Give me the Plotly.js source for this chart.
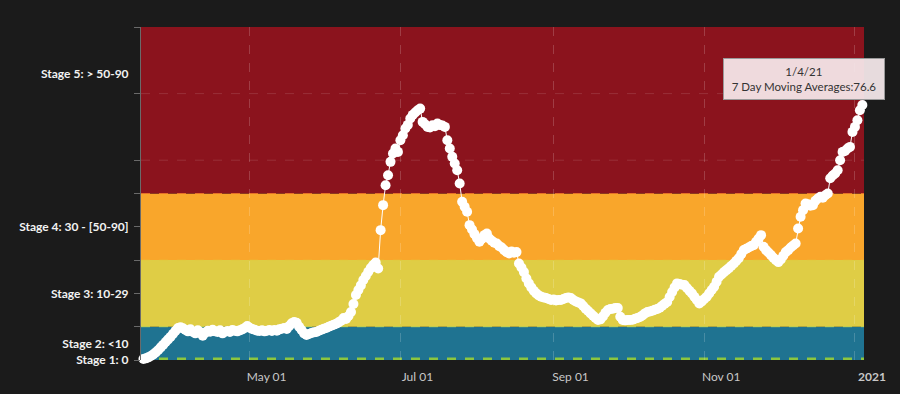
<!DOCTYPE html>
<html>
<head>
<meta charset="utf-8">
<script src="https://cdn.plot.ly/plotly-3.0.1.min.js"></script>
<style>
html,body{margin:0;padding:0;background:#1b1b1b;}
#chart{width:900px;height:394px;}
</style>
</head>
<body>
<div id="chart"></div>
<script>
// ---- data ----
const startDate = '2020-03-19';
const seriesName = '7 Day Moving Averages';
const movingAvg1 = [0.3,0.5,0.8,1.2,1.7,2.3,3.0,3.8,4.6,5.4,
  6.2,7.0,7.9,8.8,9.6,9.8,9.5,9.0,8.6,9.2,
  8.4,8.0,8.9,8.3,7.3,8.2,8.8,8.5,9.1,8.6,
  8.4,8.9,8.0,8.5,8.7,8.4,9.0,8.8,8.6,8.9,
  9.2,9.6,10.2,9.7,9.3,9.1,8.8,8.7,8.9,8.6];
const movingAvg2 = [8.8,9.0,8.7,9.0,8.8,9.2,9.4,9.6,9.3,10.2,
  11.0,11.4,11.2,10.0,9.0,8.0,7.5,7.8,8.1,8.3,
  8.4,8.8,9.1,9.4,9.6,10.0,10.3,10.6,10.9,11.3,
  11.8,12.6,12.3,13.2,14.4,16.8,19.5,21.0,22.4,24.0,
  25.2,26.5,27.6,28.5,29.3,27.5,39.0,46.5,52.5,55.5];
const movingAvg3 = [59.5,62.0,63.5,62.5,66.0,67.5,69.5,70.6,72.5,73.6,
  74.3,75.0,75.5,71.5,70.8,70.0,69.8,70.5,70.2,71.0,
  70.6,70.4,70.0,66.0,63.5,61.0,59.0,57.0,53.0,47.5,
  46.0,44.5,40.5,39.2,37.8,36.6,35.5,36.4,37.5,38.0,
  36.5,35.8,35.2,35.0,34.2,33.8,33.0,32.4,32.0,32.6];
const movingAvg4 = [32.2,32.4,29.0,27.8,26.4,24.5,23.0,21.8,20.8,20.0,
  19.4,19.0,18.8,18.6,18.3,18.0,18.2,17.9,18.0,18.0,
  18.3,18.6,18.8,18.6,18.0,17.6,17.3,17.0,16.2,15.4,
  14.7,14.0,13.3,12.6,12.0,12.2,13.1,14.2,15.0,15.3,
  15.4,15.6,15.6,13.0,12.0,11.9,12.0,12.0,12.1,12.4];
const movingAvg5 = [12.6,12.9,13.4,14.0,14.4,14.6,14.8,15.1,15.3,15.7,
  16.3,16.9,17.4,18.9,20.4,21.8,23.0,22.8,22.6,22.5,
  21.6,20.8,20.0,19.0,18.0,17.0,17.6,18.3,19.0,20.0,
  21.0,22.0,23.5,25.0,25.7,26.4,27.0,27.6,28.3,29.0,
  29.8,30.6,31.8,33.0,33.4,33.8,34.2,34.5,35.5,36.5];
const movingAvg6 = [37.5,34.0,33.0,32.3,31.5,30.7,30.0,29.4,30.2,31.3,
  32.4,33.0,33.8,34.4,35.0,39.5,43.0,45.0,47.0,46.8,
  46.3,46.5,47.8,48.5,49.0,48.7,49.5,50.0,54.6,55.4,
  56.0,57.0,60.0,62.5,62.8,63.5,64.0,68.5,70.0,72.0,
  75.0,76.6];
const values = [].concat(movingAvg1, movingAvg2, movingAvg3, movingAvg4, movingAvg5, movingAvg6);

const stageBands = [
  {from: 0,  to: 10,  color: '#1f7391'},
  {from: 10, to: 30,  color: '#dfcd45'},
  {from: 30, to: 50,  color: '#f9a62b'},
  {from: 50, to: 100, color: '#8b131d'}
];
const stageTickVals = [0, 5, 20, 40, 86];
const stageTickText = ['Stage 1: 0', 'Stage 2: &lt;10', 'Stage 3: 10-29', 'Stage 4: 30 - [50-90]', 'Stage 5: &gt; 50-90'];
const yTickMarks = [0, 10, 20, 30, 40, 50, 60, 80, 100];
const xTickVals = ['2020-05-01', '2020-07-01', '2020-09-01', '2020-11-01', '2021-01-01'];
const xTickText = ['May 01', 'Jul 01', 'Sep 01', 'Nov 01', '<b>2021</b>'];

// ---- dates ----
function pad(n){return (n<10?'0':'')+n;}
const s = startDate.split('-').map(Number);
const t0 = Date.UTC(s[0], s[1]-1, s[2]);
const dates = values.map((v,i)=>{
  const d = new Date(t0 + i*86400000);
  return d.getUTCFullYear()+'-'+pad(d.getUTCMonth()+1)+'-'+pad(d.getUTCDate());
});
const lastIdx = values.length-1;
const ld = new Date(t0 + lastIdx*86400000);
const lastLabel = (ld.getUTCMonth()+1)+'/'+ld.getUTCDate()+'/'+String(ld.getUTCFullYear()).slice(2);

const shapes = stageBands.map(b=>({
  type:'rect', xref:'paper', yref:'y', x0:0, x1:1, y0:b.from, y1:b.to,
  fillcolor:b.color, line:{width:0}, layer:'below'
}));
// boundary & grid lines
[[60,'rgba(255,255,255,0.12)',1],[80,'rgba(255,255,255,0.12)',1],
 [50,'rgba(240,120,40,0.9)',1],[30,'rgba(230,200,60,0.6)',1],
 [10,'rgba(200,220,90,0.9)',1]].forEach(g=>{
  shapes.push({type:'line', xref:'paper', yref:'y', x0:0, x1:1, y0:g[0], y1:g[0],
    line:{color:g[1], width:g[2], dash:'dash'}, layer:'below'});
});
shapes.push({type:'line', xref:'paper', yref:'y', x0:0, x1:1, y0:0.3, y1:0.3,
  line:{color:'#8cc63f', width:3, dash:'dash'}, layer:'below'});

const font = 'Lato, "Open Sans", sans-serif';

const traces = [
  {x: dates, y: values, name: seriesName, type:'scatter', mode:'lines+markers',
   line:{color:'#ffffff', width:1}, marker:{color:'#ffffff', size:10},
   cliponaxis:false, hoverinfo:'skip'},
  {x:[dates[0]], y:[0], yaxis:'y2', type:'scatter', mode:'markers',
   marker:{opacity:0}, hoverinfo:'skip', showlegend:false}
];

const layout = {
  width:900, height:394,
  margin:{l:141, r:36, t:27, b:34},
  paper_bgcolor:'#1b1b1b', plot_bgcolor:'#1b1b1b',
  showlegend:false, hovermode:false,
  font:{family:font, color:'#cccccc', size:12},
  xaxis:{
    type:'date', range:['2020-03-18','2021-01-04 16:00'],
    tickvals:xTickVals, ticktext:xTickText, ticks:'', ticklabelshift:17, ticklabelstandoff:8,
    tickfont:{size:12, color:'#c8c8c8'},
    showgrid:true, gridcolor:'rgba(255,255,255,0.18)', griddash:'dash', gridwidth:1,
    zeroline:false, showline:false, fixedrange:true
  },
  yaxis:{
    range:[0,100], tickvals:yTickMarks, showticklabels:false,
    ticks:'outside', ticklen:6, tickcolor:'#6a6a6a', tickwidth:1,
    showgrid:false, zeroline:false, showline:true, linecolor:'#6a6a6a', linewidth:1,
    fixedrange:true
  },
  yaxis2:{
    range:[0,100], overlaying:'y', side:'left',
    tickvals:stageTickVals, ticktext:stageTickText,
    ticks:'outside', ticklen:6, tickcolor:'rgba(0,0,0,0)', ticklabelstandoff:3,
    tickfont:{size:12, color:'#f2f2f2', weight:700, family:font},
    showgrid:false, zeroline:false, showline:false, fixedrange:true
  },
  shapes: shapes,
  annotations:[{
    x: dates[lastIdx], y: values[lastIdx], xref:'x', yref:'y',
    text: lastLabel + '<br>' + seriesName + ':' + values[lastIdx].toFixed(1),
    showarrow:false, xanchor:'center', yanchor:'bottom', xshift:-58, yshift:5,
    width:150, height:30,
    align:'center', bgcolor:'rgba(246,234,236,0.93)', bordercolor:'#9a9a9a', borderwidth:1,
    borderpad:5, font:{size:11.5, color:'#333333', family:font}
  }]
};

Plotly.newPlot('chart', traces, layout, {displayModeBar:false, staticPlot:true});
</script>
</body>
</html>
